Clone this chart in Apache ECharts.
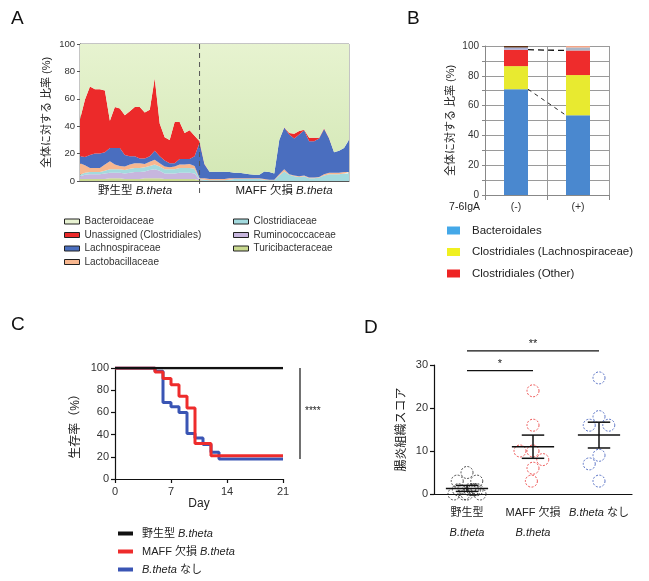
<!DOCTYPE html>
<html><head><meta charset="utf-8">
<script src="https://cdn.jsdelivr.net/npm/echarts@6/dist/echarts.min.js"></script>
<style>html,body{margin:0;padding:0;background:#fff}#c{width:649px;height:581px}</style>
</head><body><div id="c"></div>
<script>
const FONT = '"Liberation Sans", Arial, "Noto Sans CJK JP", sans-serif';

// ---------- Panel A : stacked composition per sample ----------
const aSamples = Array.from({length: 55}, (_, i) => 'S' + (i + 1));
const aTuri = [1.5,1.5,1.5,1.5,1.5,1.5,2,2,2,1.5,1.5,1.5,1.5,2,2,2,2,1.5,1.5,1.5,1.5,1.5,1.5,1.5,0.5,
  0,0,0,0,0,0,0,0,0,0,0,0,0,0,0,0,0,0,0,0,0,0,0,0,0,0,0,0,0,0];
const aRumino = [2,3,3.5,3.5,3.5,4,4,4,4,4,4.5,5,5,5,6,6.5,5.5,4,4,4,4.5,4.5,4.5,4,0.5,
  0,0,0,0,0,0,0,0,0,0,0,0,0,0,0,0,0,0,0,0,0,0,0,0,0,0,0,0,0,0];
const aClostri = [1,1.5,1.5,1.5,1.5,2,2.5,2.5,2.5,2.5,3,3,3,3,3,3.5,3,3,3,3,3.5,3.5,3.5,3.5,0.5,
  1,0.5,0.5,0.5,0.5,1,1.5,1.5,1.5,1.5,1.5,1.5,1,0.5,0.5,4,7,4.5,3.5,3,3.5,2,2,2.5,4,5,5,5,5.5,5.5];
const aLacto = [8.5,5.5,3,3,3,4.5,6,3.5,2.5,2.5,3,3.5,3.5,2.5,3,3.5,2.5,2,1.5,2,2.5,2.5,3,2,0.5,
  1,1,1,1,1,1,0.5,0.5,0.5,0.5,0.5,0.5,0.5,0.5,0.5,1,1.5,0.5,0.5,0.5,0.5,0.5,0.5,0.5,1,1,1,1,1,1];
const aLachno = [5,6,9.5,10.5,10.5,9,9.5,12,13,8.5,6,5,3.5,4,4,6.5,5,4.5,3,2.5,4,4,3.5,7,26,
  10,5.3,5.3,5.3,5.3,4.5,4,4,3.5,3,2.5,2.5,5.5,5.5,4.5,25,30.5,29,27,30.5,33,26.5,26.5,28,33,25,15,16,17.5,23.5];
const aUnassigned = [27,42,50,47,47,45,20,30,29,29,33,36,37.5,33.5,34,53,24,17,17,30,27,19,21,15,1,
  0.5,0,0,0,0,0,0,0,0,0,0,0,0,0,0,0,0.3,1,3.5,2.5,0.5,2.5,2.5,0.5,0.5,0.3,0,0,0,0.3];
// Bacteroidaceae = the rest of each 100 % sample
const aBactero = aSamples.map((_, i) =>
  +(100 - aTuri[i] - aRumino[i] - aClostri[i] - aLacto[i] - aLachno[i] - aUnassigned[i]).toFixed(2));
const aGroupLabels = ['野生型 {i|B.theta}', 'MAFF 欠損 {i|B.theta}'];
const aDividerIndex = 24;

// ---------- Panel B ----------
const bCats = ['(-)', '(+)'];
const bBacteroidales = [71, 53.5];
const bLachno = [15.5, 27];
const bOther = [11, 16.5];
const bMinor1 = [1.5, 2];
const bMinor2 = [1, 1];

// ---------- Panel C : survival ----------
const cWT = [[0,100],[21,100]];
const cMAFF = [[0,100],[5,96.5],[6,90.5],[7,85],[8,74.5],[9,64],[10,32],[12,21],[21,21]];
const cNone = [[0,100],[5,97],[6,69],[7,65],[8,60],[9,41],[10,37],[11,31],[12,24],[13,18],[21,18]];

// ---------- Panel D : histology score ----------
const dCats = ['野生型\nB.theta', 'MAFF 欠損\nB.theta', 'B.theta なし'];
const dWT = [5,3,3,1,1,1,1,1,0,0,0,0];
const dMAFF = [24,16,10,10,8,6,3];
const dNone = [27,18,16,16,9,7,3];
const dMean = [1.3, 11, 13.7];
const dLo = [0.6, 8.3, 10.7];
const dHi = [2.0, 13.7, 16.7];
const dSig = [[0,1,28.7,'*'],[0,2,33.3,'**']];

const chart = echarts.init(document.getElementById('c'), null, {renderer: 'canvas'});

const aColors = {
  'Turicibacteraceae': '#c9d98f',
  'Ruminococcaceae': '#c7b6de',
  'Clostridiaceae': '#a3dade',
  'Lactobacillaceae': '#f8b78f',
  'Lachnospiraceae': '#4a6ebf',
  'Unassigned (Clostridiales)': '#ec2a2a',
  'Bacteroidaceae': '#e8f3d2'
};
const aData = {
  'Turicibacteraceae': aTuri, 'Ruminococcaceae': aRumino, 'Clostridiaceae': aClostri,
  'Lactobacillaceae': aLacto, 'Lachnospiraceae': aLachno,
  'Unassigned (Clostridiales)': aUnassigned, 'Bacteroidaceae': aBactero
};
const aSeries = Object.keys(aData).map(name => ({
  name, type: 'line', stack: 'A', xAxisIndex: 0, yAxisIndex: 0,
  data: aData[name], symbol: 'none', lineStyle: {width: 0}, smooth: false,
  itemStyle: {color: aColors[name]},
  areaStyle: {
    opacity: 1,
    color: name === 'Bacteroidaceae'
      ? new echarts.graphic.LinearGradient(0, 0, 0, 1, [{offset: 0, color: '#e7f3d0'}, {offset: 1, color: '#d4e8b6'}])
      : aColors[name]
  }
}));

const axisLbl = (size) => ({color: '#333', fontSize: size, fontFamily: FONT});

const option = {
  animation: false,
  textStyle: {fontFamily: FONT},
  title: [
    {text: 'A', left: 6, top: 4, textStyle: {fontSize: 19, fontWeight: 'normal', color: '#111', fontFamily: FONT}},
    {text: 'B', left: 402, top: 4, textStyle: {fontSize: 19, fontWeight: 'normal', color: '#111', fontFamily: FONT}},
    {text: 'C', left: 6, top: 310, textStyle: {fontSize: 19, fontWeight: 'normal', color: '#111', fontFamily: FONT}},
    {text: 'D', left: 359, top: 313, textStyle: {fontSize: 19, fontWeight: 'normal', color: '#111', fontFamily: FONT}}
  ],
  grid: [
    {left: 80, top: 44, width: 269, height: 137, show: true, borderColor: '#8a8a8a', borderWidth: 1},
    {left: 485, top: 46, width: 124, height: 149},
    {left: 115, top: 368, width: 168, height: 111},
    {left: 434, top: 365, width: 198, height: 129}
  ],
  xAxis: [
    {gridIndex: 0, type: 'category', data: aSamples, boundaryGap: false,
     axisLine: {lineStyle: {color: '#555'}}, axisTick: {show: false}, axisLabel: {show: false}, splitLine: {show: false}},
    {gridIndex: 1, type: 'category', data: bCats,
     axisLine: {lineStyle: {color: '#888'}}, axisTick: {show: true, length: 5, lineStyle: {color: '#888'}},
     splitLine: {show: true, lineStyle: {color: '#9a9a9a'}},
     axisLabel: Object.assign(axisLbl(10.5), {margin: 7})},
    {gridIndex: 2, type: 'value', min: 0, max: 21, interval: 7,
     name: 'Day', nameLocation: 'middle', nameGap: 19, nameTextStyle: {fontSize: 12, color: '#222', fontFamily: FONT},
     axisLine: {lineStyle: {color: '#111', width: 1.2}}, axisTick: {length: 4, lineStyle: {color: '#111', width: 1.2}},
     splitLine: {show: false}, axisLabel: Object.assign(axisLbl(11), {margin: 7})},
    {gridIndex: 3, type: 'category', data: dCats, jitter: 34, jitterOverlap: false, jitterMargin: 1,
     axisLine: {lineStyle: {color: '#111', width: 1.2}}, axisTick: {alignWithLabel: true, length: 4, lineStyle: {color: '#111', width: 1.2}},
     axisLabel: {color: '#222', fontSize: 11, fontFamily: FONT, margin: 9, lineHeight: 20, interval: 0, hideOverlap: false,
       formatter: v => v.split('\n').map(s => s.replace('B.theta', '{i|B.theta}')).join('\n'),
       rich: {i: {fontStyle: 'italic', fontSize: 11, fontFamily: FONT, color: '#222', lineHeight: 20}}}}
  ],
  yAxis: [
    {gridIndex: 0, type: 'value', min: 0, max: 100, interval: 20,
     name: '全体に対する 比率 (%)', nameLocation: 'middle', nameGap: 28, nameTextStyle: {fontSize: 11, color: '#222', fontFamily: FONT},
     axisLine: {show: true, lineStyle: {color: '#555'}}, axisTick: {show: true, length: 3, lineStyle: {color: '#555'}},
     splitLine: {show: false}, axisLabel: Object.assign(axisLbl(9.5), {margin: 5})},
    {gridIndex: 1, type: 'value', min: 0, max: 100, interval: 10,
     name: '全体に対する 比率 (%)', nameLocation: 'middle', nameGap: 29, nameTextStyle: {fontSize: 11, color: '#222', fontFamily: FONT},
     axisLine: {show: true, lineStyle: {color: '#888'}}, axisTick: {show: true, length: 3, lineStyle: {color: '#888'}},
     splitLine: {show: true, lineStyle: {color: '#9a9a9a'}},
     axisLabel: Object.assign(axisLbl(10), {margin: 6, formatter: v => (v % 20 === 0 ? String(v) : '')})},
    {gridIndex: 2, type: 'value', min: 0, max: 100, interval: 20,
     name: '生存率（%）', nameLocation: 'middle', nameGap: 33, nameTextStyle: {fontSize: 12, color: '#222', fontFamily: FONT},
     axisLine: {show: true, lineStyle: {color: '#111', width: 1.2}}, axisTick: {show: true, length: 4, lineStyle: {color: '#111', width: 1.2}},
     splitLine: {show: false}, axisLabel: Object.assign(axisLbl(11), {margin: 6})},
    {gridIndex: 3, type: 'value', min: 0, max: 30, interval: 10,
     name: '腸炎組織スコア', nameLocation: 'middle', nameGap: 26, nameTextStyle: {fontSize: 12, color: '#222', fontFamily: FONT},
     axisLine: {show: true, lineStyle: {color: '#111', width: 1.2}}, axisTick: {show: true, length: 4, lineStyle: {color: '#111', width: 1.2}},
     splitLine: {show: false}, axisLabel: Object.assign(axisLbl(11), {margin: 6})}
  ],
  legend: [
    {left: 64, top: 216, padding: 0, orient: 'vertical', itemGap: 2.5, itemWidth: 15, itemHeight: 5, icon: 'rect',
     data: ['Bacteroidaceae', 'Unassigned (Clostridiales)', 'Lachnospiraceae', 'Lactobacillaceae'],
     itemStyle: {borderColor: '#222', borderWidth: 1},
     textStyle: {fontSize: 10, color: '#333', fontFamily: FONT, lineHeight: 11}, selectedMode: false},
    {left: 233, top: 216, padding: 0, orient: 'vertical', itemGap: 2.5, itemWidth: 15, itemHeight: 5, icon: 'rect',
     data: ['Clostridiaceae', 'Ruminococcaceae', 'Turicibacteraceae'],
     itemStyle: {borderColor: '#222', borderWidth: 1},
     textStyle: {fontSize: 10, color: '#333', fontFamily: FONT, lineHeight: 11}, selectedMode: false},
    {left: 447, top: 224, padding: 0, orient: 'vertical', itemGap: 8.5, itemWidth: 13, itemHeight: 8, icon: 'rect',
     data: [{name: 'Bacteroidales', itemStyle: {color: '#44a8e8'}},
            {name: 'Clostridiales (Lachnospiraceae)', itemStyle: {color: '#f0f020'}},
            {name: 'Clostridiales (Other)', itemStyle: {color: '#ee2424'}}],
     textStyle: {fontSize: 11.5, color: '#222', fontFamily: FONT, lineHeight: 13, padding: [0, 0, 0, 7]}, selectedMode: false},
    {left: 118, top: 527, padding: 0, height: 60, orient: 'vertical', itemGap: 5, itemWidth: 15, itemHeight: 4, icon: 'rect',
     data: ['野生型 B.theta', 'MAFF 欠損 B.theta', 'B.theta なし'],
     formatter: n => n.replace('B.theta', '{i|B.theta}'),
     textStyle: {fontSize: 11, color: '#222', fontFamily: FONT, lineHeight: 13, padding: [0, 0, 0, 4],
       rich: {i: {fontStyle: 'italic', fontSize: 11, color: '#222', fontFamily: FONT}}}, selectedMode: false}
  ],
  series: [
    ...aSeries,
    {name: 'Bacteroidales', type: 'bar', stack: 'B', xAxisIndex: 1, yAxisIndex: 1, barWidth: 24,
     data: bBacteroidales, itemStyle: {color: '#4a88cf'}},
    {name: 'Clostridiales (Lachnospiraceae)', type: 'bar', stack: 'B', xAxisIndex: 1, yAxisIndex: 1, barWidth: 24,
     data: bLachno, itemStyle: {color: '#e8ea30'}},
    {name: 'Clostridiales (Other)', type: 'bar', stack: 'B', xAxisIndex: 1, yAxisIndex: 1, barWidth: 24,
     data: bOther, itemStyle: {color: '#ee2c2c'}},
    {name: 'minor1', type: 'bar', stack: 'B', xAxisIndex: 1, yAxisIndex: 1, barWidth: 24,
     data: bMinor1.map((v, i) => ({value: v, itemStyle: {color: ['#a7b0d8', '#a9b6c8'][i]}}))},
    {name: 'minor2', type: 'bar', stack: 'B', xAxisIndex: 1, yAxisIndex: 1, barWidth: 24,
     data: bMinor2.map((v, i) => ({value: v, itemStyle: {color: ['#5b3015', '#f2a486'][i]}}))},
    {name: 'B.theta なし', type: 'line', step: 'end', xAxisIndex: 2, yAxisIndex: 2, data: cNone,
     symbol: 'none', lineStyle: {width: 3, color: '#3a55b4'}, itemStyle: {color: '#3a55b4'}},
    {name: 'MAFF 欠損 B.theta', type: 'line', step: 'end', xAxisIndex: 2, yAxisIndex: 2, data: cMAFF,
     symbol: 'none', lineStyle: {width: 3, color: '#ee2c2c'}, itemStyle: {color: '#ee2c2c'}},
    {name: '野生型 B.theta', type: 'line', xAxisIndex: 2, yAxisIndex: 2, data: cWT,
     symbol: 'none', lineStyle: {width: 2.5, color: '#111'}, itemStyle: {color: '#111'}},
    ...[[dWT, '#222'], [dMAFF, '#e82a2a'], [dNone, '#3353b8']].map(([vals, col], gi) => ({
      type: 'scatter', xAxisIndex: 3, yAxisIndex: 3, symbol: 'circle', symbolSize: 12,
      data: vals.map(v => [dCats[gi], v]),
      itemStyle: {color: 'rgba(255,255,255,0)', borderColor: col, borderWidth: 1, borderType: [2, 1.5]}
    })),
    {type: 'custom', xAxisIndex: 3, yAxisIndex: 3, z: 5,
     data: dMean.map((m, i) => [i, m, dLo[i], dHi[i]]),
     encode: {x: 0, y: [1, 2, 3]},
     renderItem: (params, api) => {
       const c = api.coord([api.value(0), api.value(1)]);
       const lo = api.coord([api.value(0), api.value(2)]);
       const hi = api.coord([api.value(0), api.value(3)]);
       const bw = api.size([1, 0])[0];
       const hw = bw * 0.32, cw = bw * 0.17;
       const st = {stroke: '#111', lineWidth: 1.5};
       return {type: 'group', children: [
         {type: 'line', shape: {x1: c[0] - hw, y1: c[1], x2: c[0] + hw, y2: c[1]}, style: st},
         {type: 'line', shape: {x1: c[0], y1: lo[1], x2: c[0], y2: hi[1]}, style: st},
         {type: 'line', shape: {x1: c[0] - cw, y1: lo[1], x2: c[0] + cw, y2: lo[1]}, style: st},
         {type: 'line', shape: {x1: c[0] - cw, y1: hi[1], x2: c[0] + cw, y2: hi[1]}, style: st}
       ]};
     }},
    {type: 'custom', xAxisIndex: 3, yAxisIndex: 3, z: 5, clip: false,
     data: dSig.map(d => [d[0], d[2]]),
     renderItem: (params, api) => {
       const d = dSig[params.dataIndex];
       const p0 = api.coord([d[0], d[2]]);
       const p1 = api.coord([d[1], d[2]]);
       return {type: 'group', children: [
         {type: 'line', shape: {x1: p0[0], y1: p0[1], x2: p1[0], y2: p1[1]}, style: {stroke: '#111', lineWidth: 1.2}},
         {type: 'text', style: {text: d[3], x: (p0[0] + p1[0]) / 2, y: p0[1] - 1, align: 'center', verticalAlign: 'bottom',
           font: '11px ' + FONT, fill: '#222'}}
       ]};
     }}
  ]
};
chart.setOption(option);

// Overlay annotations positioned via the chart's own coordinate conversion
const g = [];
const divTop = chart.convertToPixel({gridIndex: 0}, [aDividerIndex, 100]);
const divBot = chart.convertToPixel({gridIndex: 0}, [aDividerIndex, 0]);
g.push({type: 'line', shape: {x1: divTop[0], y1: divTop[1], x2: divBot[0], y2: divBot[1] + 12},
  style: {stroke: '#555', lineWidth: 1, lineDash: [5, 4]}, z: 10});
g.push({type: 'text', style: {text: aGroupLabels[0], x: 135, y: 191, align: 'center', verticalAlign: 'middle',
  font: '11.5px ' + FONT, fill: '#222', rich: {i: {fontStyle: 'italic', fontSize: 11.5, fontFamily: FONT, fill: '#222'}}}});
g.push({type: 'text', style: {text: aGroupLabels[1], x: 284, y: 191, align: 'center', verticalAlign: 'middle',
  font: '11.5px ' + FONT, fill: '#222', rich: {i: {fontStyle: 'italic', fontSize: 11.5, fontFamily: FONT, fill: '#222'}}}});
// Panel B connectors
const halfBar = 12;
const redTop0 = chart.convertToPixel({gridIndex: 1}, [0, bBacteroidales[0] + bLachno[0] + bOther[0]]);
const redTop1 = chart.convertToPixel({gridIndex: 1}, [1, bBacteroidales[1] + bLachno[1] + bOther[1]]);
const bac0 = chart.convertToPixel({gridIndex: 1}, [0, bBacteroidales[0]]);
const bac1 = chart.convertToPixel({gridIndex: 1}, [1, bBacteroidales[1]]);
g.push({type: 'line', shape: {x1: redTop0[0] + halfBar, y1: redTop0[1], x2: redTop1[0] - halfBar, y2: redTop1[1]},
  style: {stroke: '#111', lineWidth: 1.3, lineDash: [6, 4]}, z: 10});
g.push({type: 'line', shape: {x1: bac0[0] + halfBar, y1: bac0[1], x2: bac1[0] - halfBar, y2: bac1[1]},
  style: {stroke: '#111', lineWidth: 0.9, lineDash: [4, 4]}, z: 10});
g.push({type: 'text', style: {text: '7-6IgA', x: 480, y: 207, align: 'right', verticalAlign: 'middle',
  font: '10.5px ' + FONT, fill: '#222'}});
// Panel C significance
const c100 = chart.convertToPixel({gridIndex: 2}, [21, 100]);
const c18 = chart.convertToPixel({gridIndex: 2}, [21, cNone[cNone.length - 1][1]]);
g.push({type: 'line', shape: {x1: 300, y1: c100[1], x2: 300, y2: c18[1]}, style: {stroke: '#111', lineWidth: 1.2}});
g.push({type: 'text', style: {text: '****', x: 305, y: 411, align: 'left', verticalAlign: 'middle',
  font: '10px ' + FONT, fill: '#222'}});
chart.setOption({graphic: g});
</script></body></html>
